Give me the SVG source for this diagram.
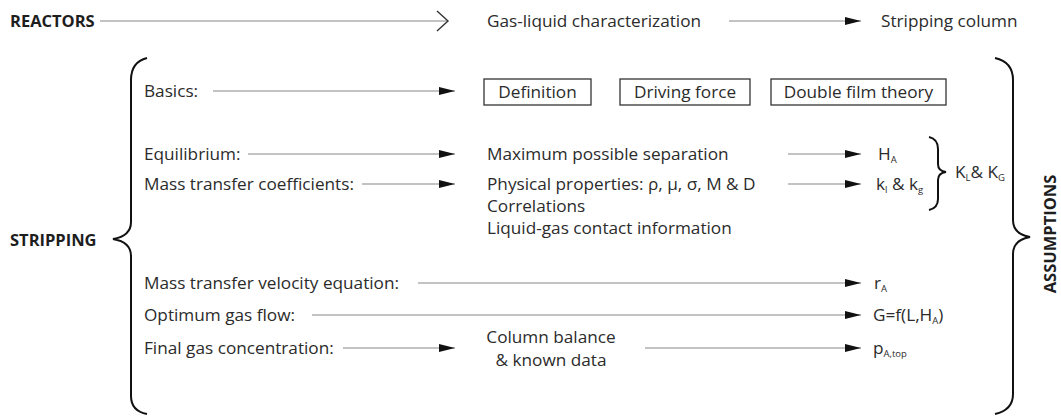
<svg xmlns="http://www.w3.org/2000/svg" width="1061" height="416" viewBox="0 0 1061 416">
<style>
text{font-family:"Open Sans","Liberation Sans",sans-serif;font-size:17.2px;fill:#2b2b2b}
.b{font-weight:bold;font-size:16.5px;fill:#1e1e1e}
.sub{font-size:9.5px}
.ln{stroke:#888;stroke-width:1.1;fill:none}
.br{stroke:#111;stroke-width:2;fill:none}
.box{fill:#fff;stroke:#333;stroke-width:1.3}
</style>
<defs>
<marker id="ah" markerUnits="userSpaceOnUse" markerWidth="17" markerHeight="10" refX="16" refY="4" orient="auto">
<path d="M0,0 L16,4 L0,8 Z" fill="#111"/>
</marker>
</defs>
<rect width="1061" height="416" fill="#fff"/>

<g id="connectors">
<line class="ln" x1="100" y1="21" x2="448" y2="21"/>
<polyline points="437,11 448,21 437,31" fill="none" stroke="#333" stroke-width="1.4"/>
<line class="ln" x1="729" y1="21" x2="861" y2="21" marker-end="url(#ah)"/>
<line class="ln" x1="213" y1="91" x2="455" y2="91" marker-end="url(#ah)"/>
<line class="ln" x1="248" y1="154" x2="455" y2="154" marker-end="url(#ah)"/>
<line class="ln" x1="362" y1="184" x2="455" y2="184" marker-end="url(#ah)"/>
<line class="ln" x1="788" y1="154" x2="861" y2="154" marker-end="url(#ah)"/>
<line class="ln" x1="788" y1="184" x2="861" y2="184" marker-end="url(#ah)"/>
<line class="ln" x1="418" y1="283" x2="861" y2="283" marker-end="url(#ah)"/>
<line class="ln" x1="312" y1="315" x2="861" y2="315" marker-end="url(#ah)"/>
<line class="ln" x1="343" y1="348" x2="455" y2="348" marker-end="url(#ah)"/>
<line class="ln" x1="645" y1="348" x2="861" y2="348" marker-end="url(#ah)"/>
</g>

<g id="reactors"><text class="b" x="10" y="27">REACTORS</text></g>
<g id="gas-liquid"><text x="487" y="27">Gas-liquid characterization</text></g>
<g id="stripping-column"><text x="881" y="27">Stripping column</text></g>

<g id="stripping">
<text class="b" x="10" y="246">STRIPPING</text>
<path class="br" d="M147,58 Q131,62 131,80 L131,222 Q131,236 113,239 Q131,242 131,256 L131,396 Q131,411 147,414"/>
</g>

<g id="assumptions">
<path class="br" d="M995,58 Q1013,62 1013,80 L1013,220 Q1013,234 1030,237 Q1013,240 1013,254 L1013,394 Q1013,410 995,414"/>
<text class="b" transform="translate(1056,234) rotate(-90)" text-anchor="middle">ASSUMPTIONS</text>
</g>

<g id="basics"><text x="144" y="97">Basics:</text></g>
<g id="definition"><rect class="box" x="484" y="79" width="107" height="26"/><text x="537.5" y="97.5" text-anchor="middle">Definition</text></g>
<g id="driving-force"><rect class="box" x="620" y="79" width="130" height="26"/><text x="685" y="97.5" text-anchor="middle">Driving force</text></g>
<g id="double-film"><rect class="box" x="771" y="79" width="175" height="26"/><text x="858.5" y="97.5" text-anchor="middle">Double film theory</text></g>

<g id="equilibrium"><text x="144" y="160">Equilibrium:</text></g>
<g id="max-sep"><text x="487" y="160">Maximum possible separation</text></g>
<g id="ha"><text x="878" y="160">H<tspan class="sub" dy="3">A</tspan></text></g>

<g id="mtc"><text x="144" y="190">Mass transfer coefficients:</text></g>
<g id="phys"><text x="487" y="190">Physical properties: ρ, μ, σ, M &amp; D</text>
<text x="487" y="212">Correlations</text>
<text x="487" y="234">Liquid-gas contact information</text></g>
<g id="kl-kg"><text x="876" y="190">k<tspan class="sub" dy="3">l</tspan><tspan dy="-3"> &amp; k</tspan><tspan class="sub" dy="3">g</tspan></text></g>

<g id="kl-kg-brace">
<path class="br" stroke-width="1.6" d="M929,137 Q938,139 938,149 L938,164 Q938,171 946,172 Q938,173 938,180 L938,199 Q938,208 929,210"/>
<text x="955" y="178">K<tspan class="sub" dy="3">L</tspan><tspan dy="-3">&amp; K</tspan><tspan class="sub" dy="3">G</tspan></text>
</g>

<g id="velocity"><text x="144" y="289">Mass transfer velocity equation:</text></g>
<g id="ra"><text x="874" y="289">r<tspan class="sub" dy="3">A</tspan></text></g>

<g id="optimum"><text x="144" y="321">Optimum gas flow:</text></g>
<g id="gf"><text x="873" y="321">G=f(L,H<tspan class="sub" dy="3">A</tspan><tspan dy="-3">)</tspan></text></g>

<g id="final"><text x="144" y="354">Final gas concentration:</text></g>
<g id="balance"><text x="551" y="343" text-anchor="middle">Column balance</text>
<text x="551" y="366" text-anchor="middle">&amp; known data</text></g>
<g id="ptop"><text x="873" y="354">p<tspan class="sub" dy="3">A,top</tspan></text></g>
</svg>
